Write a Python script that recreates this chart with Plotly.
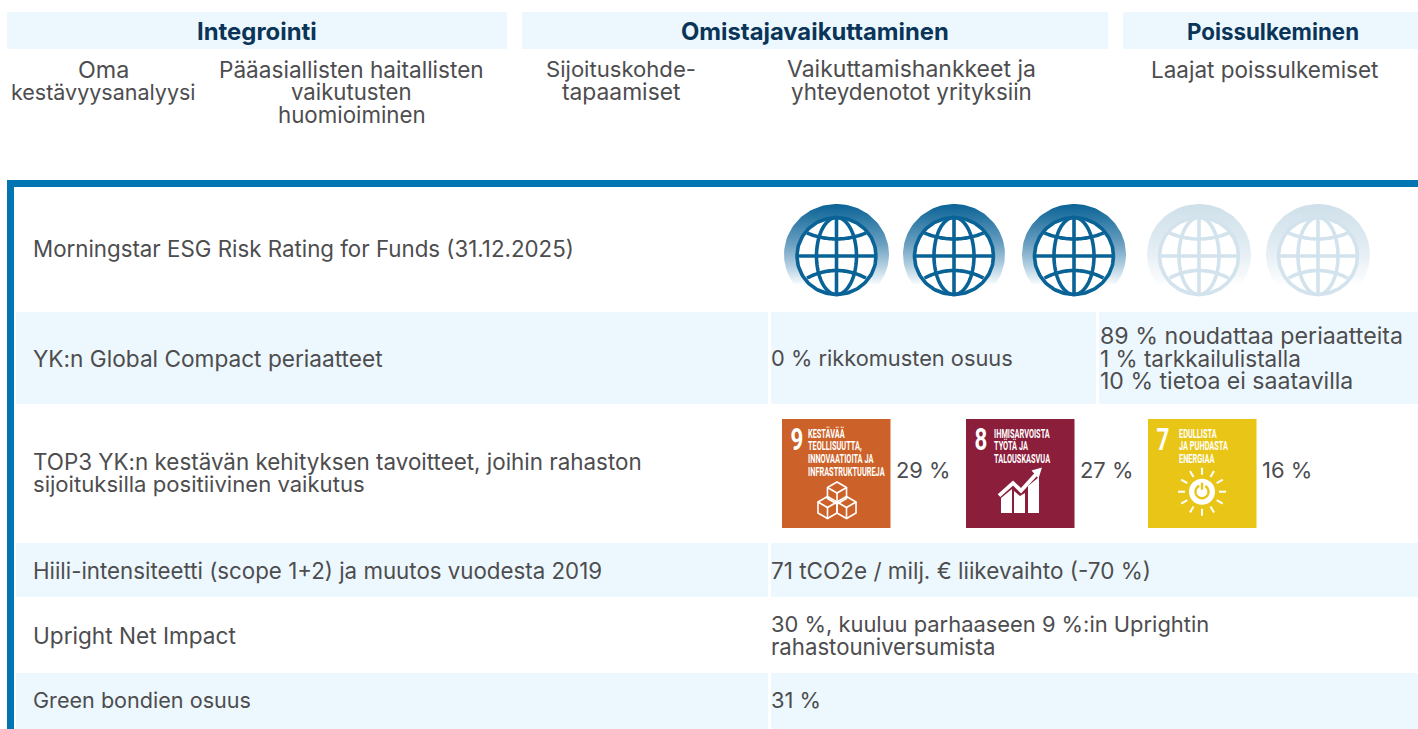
import numpy as np
import plotly.graph_objects as go

TEXT = "#4d4d4f"
NAVY = "#0b3558"
PALE = "#edf8fe"
BLUE = "#0075b2"
FONT = "Inter"
NARROW = "Roboto"

# ---- content
pillars = ["Integrointi", "Omistajavaikuttaminen", "Poissulkeminen"]
pillar_spans = [(7, 507), (522, 1108), (1123, 1418)]
pillar_text_x = [257, 815, 1273]
sub_items = [
    ("Oma\nkestävyysanalyysi", 103.5),
    ("Pääasiallisten haitallisten\nvaikutusten\nhuomioiminen", 351.5),
    ("Sijoituskohde-\ntapaamiset", 620.5),
    ("Vaikuttamishankkeet ja\nyhteydenotot yrityksiin", 911),
    ("Laajat poissulkemiset", 1264),
]
row_labels = [
    ("Morningstar ESG Risk Rating for Funds (31.12.2025)", 248),
    ("YK:n Global Compact periaatteet", 358),
    ("TOP3 YK:n kestävän kehityksen tavoitteet, joihin rahaston\nsijoituksilla positiivinen vaikutus", 473),
    ("Hiili-intensiteetti (scope 1+2) ja muutos vuodesta 2019", 570),
    ("Upright Net Impact", 635),
    ("Green bondien osuus", 700),
]
row_values = [
    ("0 % rikkomusten osuus", 771, 358),
    ("89 % noudattaa periaatteita\n1 % tarkkailulistalla\n10 % tietoa ei saatavilla", 1100, 358),
    ("71 tCO2e / milj. € liikevaihto (-70 %)", 771, 570),
    ("30 %, kuuluu parhaaseen 9 %:in Uprightin\nrahastouniversumista", 771, 635),
    ("31 %", 771, 700),
]
globe_centers = [836.5, 954, 1074, 1199, 1318]
globe_half_widths = [52.5, 51, 52, 52, 52]
globes_on = 3
sdg_numbers = ["9", "8", "7"]
sdg_titles = [
    ["KESTÄVÄÄ", "TEOLLISUUTTA,", "INNOVAATIOITA JA", "INFRASTRUKTUUREJA"],
    ["IHMISARVOISTA", "TYÖTÄ JA", "TALOUSKASVUA"],
    ["EDULLISTA", "JA PUHDASTA", "ENERGIAA"],
]
sdg_shares = ["29 %", "27 %", "16 %"]
sdg_colors = ["#cc6229", "#8a1e3b", "#e9c517"]
sdg_left = [782, 966, 1148]
sdg_text_inset = [26, 28, 31]

# font size per line, so that each line spans the width seen in the reference
DEFAULT_SIZE = 22.3
line_sizes = {
    "Integrointi": 23.9, "Omistajavaikuttaminen": 23.8, "Poissulkeminen": 22.3,
    "Oma": 23.3, "kestävyysanalyysi": 21.5, "Pääasiallisten haitallisten": 22.6,
    "vaikutusten": 22.2, "huomioiminen": 22.3, "Sijoituskohde-": 22.1, "tapaamiset": 22.8,
    "Vaikuttamishankkeet ja": 23.0, "yhteydenotot yrityksiin": 22.4, "Laajat poissulkemiset": 22.5,
    "YK:n Global Compact periaatteet": 22.65,
    "TOP3 YK:n kestävän kehityksen tavoitteet, joihin rahaston": 22.4,
    "sijoituksilla positiivinen vaikutus": 22.1,
    "Upright Net Impact": 22.6, "Green bondien osuus": 21.6,
    "0 % rikkomusten osuus": 21.8, "89 % noudattaa periaatteita": 23.2,
    "1 % tarkkailulistalla": 22.5, "10 % tietoa ei saatavilla": 23.05,
    "71 tCO2e / milj. € liikevaihto (-70 %)": 22.5,
    "30 %, kuuluu parhaaseen 9 %:in Uprightin": 21.9, "rahastouniversumista": 22.2,
    "31 %": 21.9, "29 %": 21.9, "27 %": 21.9, "16 %": 22.0,
}

fig = go.Figure()
shapes, notes = [], []


def rect(x0, y0, x1, y1, color, layer="below"):
    shapes.append(dict(type="rect", x0=x0, x1=x1, y0=y0, y1=y1, fillcolor=color,
                       line=dict(width=0), layer=layer))


def poly(xs, ys, color, width=3, close=False):
    d = "M" + "L".join(f"{x:.2f},{y:.2f}" for x, y in zip(xs, ys)) + ("Z" if close else "")
    shapes.append(dict(type="path", path=d, line=dict(color=color, width=width), layer="above"))


def fillpoly(xs, ys, color):
    d = "M" + "L".join(f"{x:.2f},{y:.2f}" for x, y in zip(xs, ys)) + "Z"
    shapes.append(dict(type="path", path=d, fillcolor=color, line=dict(width=0), layer="above"))


def text(x, y, s, size=None, color=TEXT, anchor="left", family=FONT, bold=False):
    notes.append(dict(x=x, y=y, text=f"<b>{s}</b>" if bold else s, showarrow=False,
                      xanchor=anchor, yanchor="middle", xref="x", yref="y",
                      xshift=-2 if anchor == "left" else 0,
                      font=dict(size=size or line_sizes.get(s, DEFAULT_SIZE), color=color, family=family)))


def lines(x, y, s, step=22.5, **kw):
    parts = s.split("\n")
    top = y - step * (len(parts) - 1) / 2
    for i, p in enumerate(parts):
        text(x, top + i * step, p, **kw)


# ---- header bands
for name, (a, b), tx in zip(pillars, pillar_spans, pillar_text_x):
    rect(a, 12, b, 49, PALE)
    text(tx, 31, name, size=line_sizes[name], color=NAVY, anchor="center", bold=True)
for s, cx in sub_items:
    for i, p in enumerate(s.split("\n")):
        text(cx, 69 + i * 22.5, p, anchor="center")

# ---- panel
rect(7, 180, 1418, 187, BLUE)
rect(7, 180, 14, 729, BLUE)
rect(16, 312, 768, 404, PALE)
rect(771, 312, 1096, 404, PALE)
rect(1099, 312, 1418, 404, PALE)
rect(16, 543, 768, 597, PALE)
rect(771, 543, 1418, 597, PALE)
rect(16, 673, 768, 729, PALE)
rect(771, 673, 1418, 729, PALE)

for s, y in row_labels:
    lines(33, y, s)
for s, x, y in row_values:
    lines(x, y, s)


# ---- globes
def globe(cx, half_width, on):
    line_col = "#0a6396" if on else "#d3e3ed"
    stops = ([[0, "#0a6396"], [0.5, "#6a9fc0"], [0.78, "#b4d0e1"], [1, "#f6fafc"]] if on
             else [[0, "#cfe0ea"], [0.5, "#e0ebf2"], [1, "#fcfdfe"]])
    cy, dry = 254.5, 50.5
    off = np.arcsin(29.5 / dry)
    t = np.linspace(-off, np.pi + off, 90)
    fig.add_trace(go.Scatter(
        x=cx + half_width * np.cos(t), y=cy - dry * np.sin(t), mode="lines", fill="toself",
        line=dict(width=0), hoverinfo="skip",
        fillgradient=dict(type="vertical", start=204, stop=284, colorscale=stops),
    ))
    gy, rx, ry, w = 256, 39.5, 38.5, 3.6
    t = np.linspace(0, 2 * np.pi, 120)
    fig.add_trace(go.Scatter(x=cx + rx * np.cos(t), y=gy + ry * np.sin(t), mode="lines", fill="toself",
                             fillcolor="#ffffff", line=dict(color=line_col, width=w), hoverinfo="skip"))
    poly(cx + 20 * np.cos(t), gy + ry * np.sin(t), line_col, w)
    poly([cx, cx], [gy - ry, gy + ry], line_col, w)
    poly([cx - rx, cx + rx], [gy, gy], line_col, w)
    u = np.linspace(-1, 1, 40)
    poly(cx + 29.5 * u, gy - 23 + 6 * (1 - u ** 2), line_col, w)
    poly(cx + 29.5 * u, gy + 22 - 7.5 * (1 - u ** 2), line_col, w)


for i, (cx, hw) in enumerate(zip(globe_centers, globe_half_widths)):
    globe(cx, hw, i < globes_on)


# ---- SDG icons
def cube(cx, cy, r):
    dx, dy = r * 0.866, r * 0.5
    hexx = [cx, cx + dx, cx + dx, cx, cx - dx, cx - dx]
    hexy = [cy - r, cy - dy, cy + dy, cy + r, cy + dy, cy - dy]
    poly(hexx, hexy, "#ffffff", width=1.6, close=True)
    poly([cx - dx, cx, cx + dx], [cy - dy, cy, cy - dy], "#ffffff", width=1.6)
    poly([cx, cx], [cy, cy + r], "#ffffff", width=1.6)


def cubes(l):
    cube(l + 55, 493, 11)
    cube(l + 45.5, 507.5, 11)
    cube(l + 64.5, 507.5, 11)


def growth(l):
    base = 513
    fillpoly([l + 35, l + 46, l + 46, l + 35], [498, 489, base, base], "#ffffff")
    fillpoly([l + 48, l + 54, l + 59, l + 59, l + 48], [491, 496, 493, base, base], "#ffffff")
    fillpoly([l + 62, l + 73, l + 73, l + 62], [486, 477, base, base], "#ffffff")
    poly([l + 33, l + 47, l + 55, l + 72], [495.7, 483, 490.7, 472], "#ffffff", width=3.8)
    fillpoly([l + 65.5, l + 76, l + 72.5], [470.5, 467.5, 478.5], "#ffffff")


def sun(l):
    cx, cy = l + 54, 491.7
    t = np.linspace(0, 2 * np.pi, 60)
    shapes.append(dict(type="circle", x0=cx - 13, x1=cx + 13, y0=cy - 13, y1=cy + 13,
                       fillcolor="#ffffff", line=dict(width=0), layer="above"))
    poly(cx + 6.5 * np.sin(t[5:56]), cy - 6.5 * np.cos(t[5:56]), sdg_colors[2], width=2.4)
    poly([cx, cx], [cy - 9, cy - 2], sdg_colors[2], width=2.4)
    for k in range(12):
        a = k * np.pi / 6
        poly([cx + 17 * np.sin(a), cx + 24 * np.sin(a)], [cy - 17 * np.cos(a), cy - 24 * np.cos(a)],
             "#ffffff", width=2)


icons = [cubes, growth, sun]
for l, c, n, title, share, icon, inset in zip(sdg_left, sdg_colors, sdg_numbers, sdg_titles, sdg_shares,
                                               icons, sdg_text_inset):
    rect(l, 419, l + 108.5, 528, c)
    text(l + 15, 439.5, n, size=31, color="#ffffff", anchor="center", family=NARROW, bold=True)
    for i, t in enumerate(title):
        text(l + inset, 433 + i * 12.7, t, size=12.5, color="#ffffff", family=NARROW, bold=True)
    icon(l)
    text(l + 114, 470, share)

fig.update_layout(
    width=1418, height=729, margin=dict(l=0, r=0, t=0, b=0), autosize=False,
    paper_bgcolor="#ffffff", plot_bgcolor="#ffffff", showlegend=False,
    xaxis=dict(range=[0, 1418], visible=False, fixedrange=True),
    yaxis=dict(range=[729, 0], visible=False, fixedrange=True),
    shapes=shapes, annotations=notes,
)

# The tile captions use a condensed face in the reference; squeeze them horizontally.
squeeze = """
document.body.style.margin='0';document.documentElement.style.overflow='hidden';
function squeezeTiles(){
  document.querySelectorAll('text.annotation-text').forEach(function(t){
    if(!t.style.fontFamily.includes('Roboto')||t.dataset.sq)return;
    var big=parseFloat(t.style.fontSize)>20, k=big?0.72:0.59, b=t.getBBox();
    var ax=big?b.x+b.width/2:b.x;
    t.setAttribute('transform','translate('+ax+',0) scale('+k+',1) translate('+(-ax)+',0)');
    t.dataset.sq='1';
  });
}
squeezeTiles();setTimeout(squeezeTiles,50);setTimeout(squeezeTiles,300);
"""
fig.write_html("out.html", config={"displayModeBar": False}, post_script=squeeze)
